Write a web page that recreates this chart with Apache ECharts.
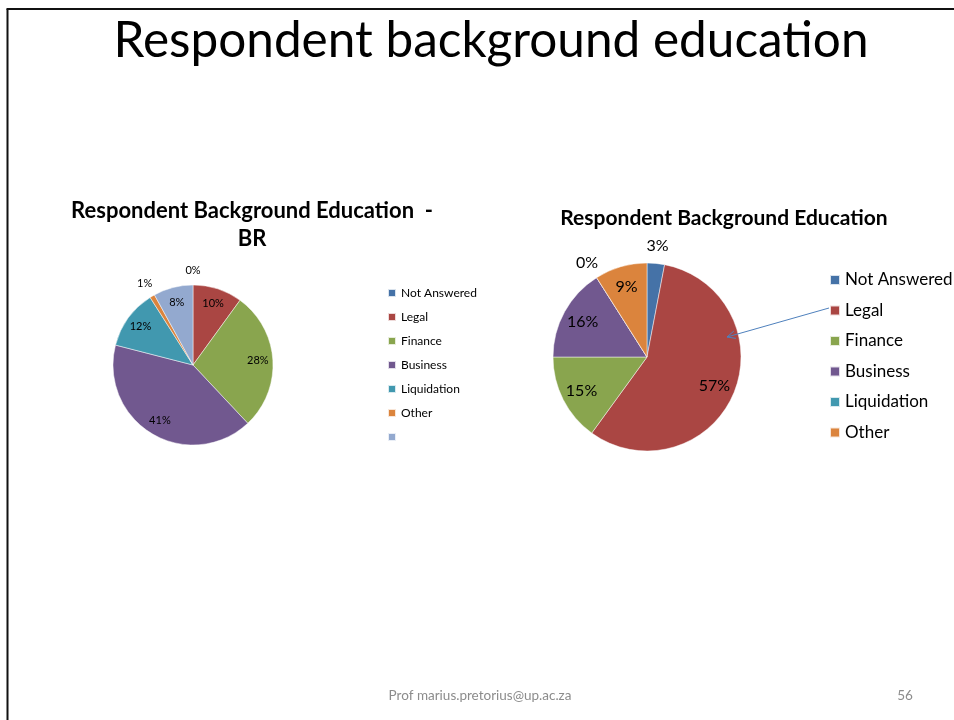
<!DOCTYPE html>
<html>
<head>
<meta charset="utf-8">
<title>Respondent background education</title>
<script src="https://cdn.jsdelivr.net/npm/echarts@6/dist/echarts.min.js"></script>
<style>
  html, body { margin: 0; padding: 0; background: #fff; }
  #chart { width: 954px; height: 720px; }
</style>
</head>
<body>
<div id="chart"></div>
<script>
// Categories and shares (percent) for the two pies
const brCategories = ['Not Answered', 'Legal', 'Finance', 'Business', 'Liquidation', 'Other', ' '];
const brValues = [0, 10, 28, 41, 12, 1, 8];
const brColors = ['#4572A7', '#AA4643', '#89A54E', '#71588F', '#4198AF', '#DB843D', '#93A9CF'];

const allCategories = ['Not Answered', 'Legal', 'Finance', 'Business', 'Liquidation', 'Other'];
const allValues = [3, 57, 15, 16, 0, 9];
const allColors = ['#4572A7', '#AA4643', '#89A54E', '#71588F', '#4198AF', '#DB843D'];

const FONT = 'Lato, "Open Sans", sans-serif';
const SMALL = 4; // slices below this share get their label outside the pie

function sliceData(names, values, colors) {
  return names.map((n, i) => ({ name: n, value: values[i], itemStyle: { color: colors[i] } }));
}

// Label-only ring; labels of 'inside' position land mid-ring
function labelRing(names, values, inner, outer, center, fontSize, wantSmall) {
  return {
    type: 'pie',
    silent: true,
    center: center,
    radius: [inner, outer],
    startAngle: 90,
    clockwise: true,
    z: 5,
    legendHoverLink: false,
    itemStyle: { color: 'rgba(0,0,0,0)', borderWidth: 0 },
    emphasis: { disabled: true },
    labelLine: { show: false },
    data: names.map((n, i) => ({
      name: n,
      value: values[i],
      label: { show: wantSmall ? values[i] < SMALL : values[i] >= SMALL }
    })),
    label: {
      position: 'inside',
      formatter: (p) => Math.round(p.value) + '%',
      color: '#000',
      fontFamily: FONT,
      fontSize: fontSize
    }
  };
}

const chart = echarts.init(document.getElementById('chart'), null, { renderer: 'canvas' });

const leftCenter = [193, 365], leftR = 80;
const rightCenter = [647, 357], rightR = 94;

const option = {
  backgroundColor: '#fff',
  animation: false,
  title: [
    {
      text: 'Respondent background education',
      left: 486, top: 11, textAlign: 'center',
      textStyle: { fontFamily: FONT, fontSize: 49.5, fontWeight: 'normal', color: '#000' }
    },
    {
      text: 'Respondent Background Education  -\nBR',
      left: 247, top: 192, textAlign: 'center',
      textStyle: { fontFamily: FONT, fontSize: 22, fontWeight: 'bold', color: '#000', lineHeight: 28 }
    },
    {
      text: 'Respondent Background Education',
      left: 719, top: 203, textAlign: 'center',
      textStyle: { fontFamily: FONT, fontSize: 21, fontWeight: 'bold', color: '#000' }
    },
    {
      text: 'Prof marius.pretorius@up.ac.za',
      left: 475, top: 684, textAlign: 'center',
      textStyle: { fontFamily: FONT, fontSize: 13.5, fontWeight: 'normal', color: '#8c8c8c' }
    },
    {
      text: '56',
      left: 900, top: 684, textAlign: 'center',
      textStyle: { fontFamily: FONT, fontSize: 13.5, fontWeight: 'normal', color: '#8c8c8c' }
    }
  ],
  legend: [
    {
      orient: 'vertical',
      left: 387, top: 287, padding: 0,
      itemWidth: 8, itemHeight: 8, itemGap: 12, itemTextGap: 4,
      icon: 'rect',
      selectedMode: false,
      data: brCategories,
      textStyle: { fontFamily: FONT, fontSize: 12, color: '#000', lineHeight: 12 }
    },
    {
      orient: 'vertical',
      left: 829, top: 271, padding: 0,
      itemWidth: 10, itemHeight: 10, itemGap: 12.5, itemTextGap: 6,
      icon: 'rect',
      selectedMode: false,
      data: allCategories,
      textStyle: { fontFamily: FONT, fontSize: 17, color: '#000', lineHeight: 18 }
    }
  ],
  series: [
    {
      type: 'pie',
      center: leftCenter,
      radius: [0, leftR],
      startAngle: 90,
      clockwise: true,
      silent: true,
      label: { show: false },
      labelLine: { show: false },
      itemStyle: { borderColor: 'rgba(255,255,255,0.8)', borderWidth: 0.6 },
      data: sliceData(brCategories, brValues, brColors)
    },
    labelRing(brCategories, brValues, leftR * 0.55, leftR, leftCenter, 11, false),
    labelRing(brCategories, brValues, leftR, leftR * 1.3, leftCenter, 11, true),
    {
      type: 'pie',
      center: rightCenter,
      radius: [0, rightR],
      startAngle: 90,
      clockwise: true,
      silent: true,
      label: { show: false },
      labelLine: { show: false },
      itemStyle: { borderColor: 'rgba(255,255,255,0.8)', borderWidth: 0.6 },
      data: sliceData(allCategories, allValues, allColors)
    },
    labelRing(allCategories, allValues, rightR * 0.5, rightR, rightCenter, 16, false),
    labelRing(allCategories, allValues, rightR, rightR * 1.32, rightCenter, 16, true)
  ],
  graphic: [
    // slide frame
    { type: 'line', z: 100, shape: { x1: 7.5, y1: 9, x2: 7.5, y2: 720 }, style: { stroke: '#111', lineWidth: 2 } },
    { type: 'line', z: 100, shape: { x1: 6.5, y1: 9, x2: 954, y2: 9 }, style: { stroke: '#111', lineWidth: 2 } },
    // callout arrow from the Legal legend entry into the pie
    { type: 'line', z: 100, shape: { x1: 829, y1: 308, x2: 727, y2: 337 }, style: { stroke: '#4F81BD', lineWidth: 1 } },
    { type: 'polyline', z: 100, shape: { points: [[735.9, 338.4], [727, 337], [733.8, 331.1]] }, style: { stroke: '#4F81BD', lineWidth: 1, fill: null } }
  ]
};

chart.setOption(option);
</script>
</body>
</html>
